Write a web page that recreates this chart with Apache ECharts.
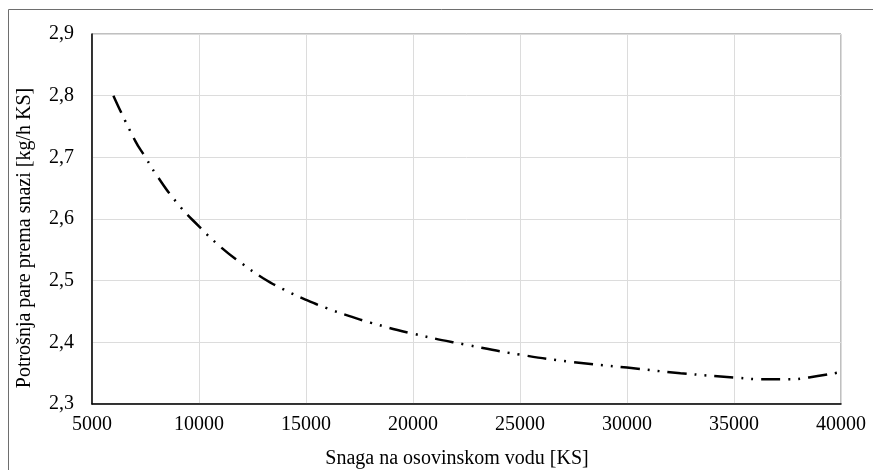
<!DOCTYPE html>
<html>
<head>
<meta charset="utf-8">
<script src="https://cdn.jsdelivr.net/npm/echarts@6/dist/echarts.min.js"></script>
<style>html,body{margin:0;padding:0;background:#fff;}#c{width:873px;height:470px;}</style>
</head>
<body>
<div id="c"></div>
<script>
const xValues = [6000, 7000, 7500, 8000, 9000, 10000, 11000, 12000, 13000, 14000, 15000, 16000, 17000, 18000, 20000, 22500, 25000, 27500, 30000, 32500, 35000, 36500, 37500, 38500, 40000];
const yValues = [2.800, 2.728, 2.700, 2.672, 2.625, 2.588, 2.555, 2.528, 2.504, 2.485, 2.469, 2.455, 2.443, 2.432, 2.414, 2.396, 2.380, 2.368, 2.359, 2.350, 2.343, 2.340, 2.340, 2.343, 2.352];
const xTitle = 'Snaga na osovinskom vodu [KS]';
const yTitle = 'Potrošnja pare prema snazi [kg/h KS]';

const font = '"Liberation Serif", "Times New Roman", serif';
const chart = echarts.init(document.getElementById('c'), null, {renderer: 'canvas'});
chart.setOption({
  animation: false,
  backgroundColor: '#fff',
  grid: {left: 92, right: 32, top: 34, bottom: 66, show: true, borderColor: '#808080', borderWidth: 1},
  xAxis: {
    type: 'value', min: 5000, max: 40000, interval: 5000,
    axisLine: {show: true, onZero: false, lineStyle: {color: '#000', width: 1.5}},
    axisTick: {show: false},
    axisLabel: {color: '#000', fontFamily: font, fontSize: 20, margin: 11, formatter: v => String(v)},
    splitLine: {show: true, lineStyle: {color: '#dcdcdc', width: 1}}
  },
  yAxis: {
    type: 'value', min: 2.3, max: 2.9, interval: 0.1,
    axisLine: {show: true, onZero: false, lineStyle: {color: '#000', width: 1.5}},
    axisTick: {show: false},
    axisLabel: {color: '#000', fontFamily: font, fontSize: 20, margin: 18,
      formatter: v => v.toFixed(1).replace('.', ',')},
    splitLine: {show: true, lineStyle: {color: '#dcdcdc', width: 1}}
  },
  graphic: [
    {type: 'rect', shape: {x: 8.5, y: 9.5, width: 900, height: 500}, style: {fill: 'none', stroke: '#6e6e6e', lineWidth: 1}, silent: true, z: -1},
    {type: 'text', x: 457, y: 459, style: {text: xTitle, font: '20px ' + font, fill: '#000', textAlign: 'center', textVerticalAlign: 'middle'}},
    {type: 'text', x: 25, y: 238, rotation: Math.PI / 2, style: {text: yTitle, font: '20px ' + font, fill: '#000', textAlign: 'center', textVerticalAlign: 'middle'}}
  ],
  series: [{
    type: 'line',
    data: xValues.map((x, i) => [x, yValues[i]]),
    smooth: 0.5,
    showSymbol: false,
    symbol: 'none',
    lineStyle: {color: '#000', width: 2.5, type: [19, 8, 2, 8, 2, 8], cap: 'butt'}
  }]
});
</script>
</body>
</html>
